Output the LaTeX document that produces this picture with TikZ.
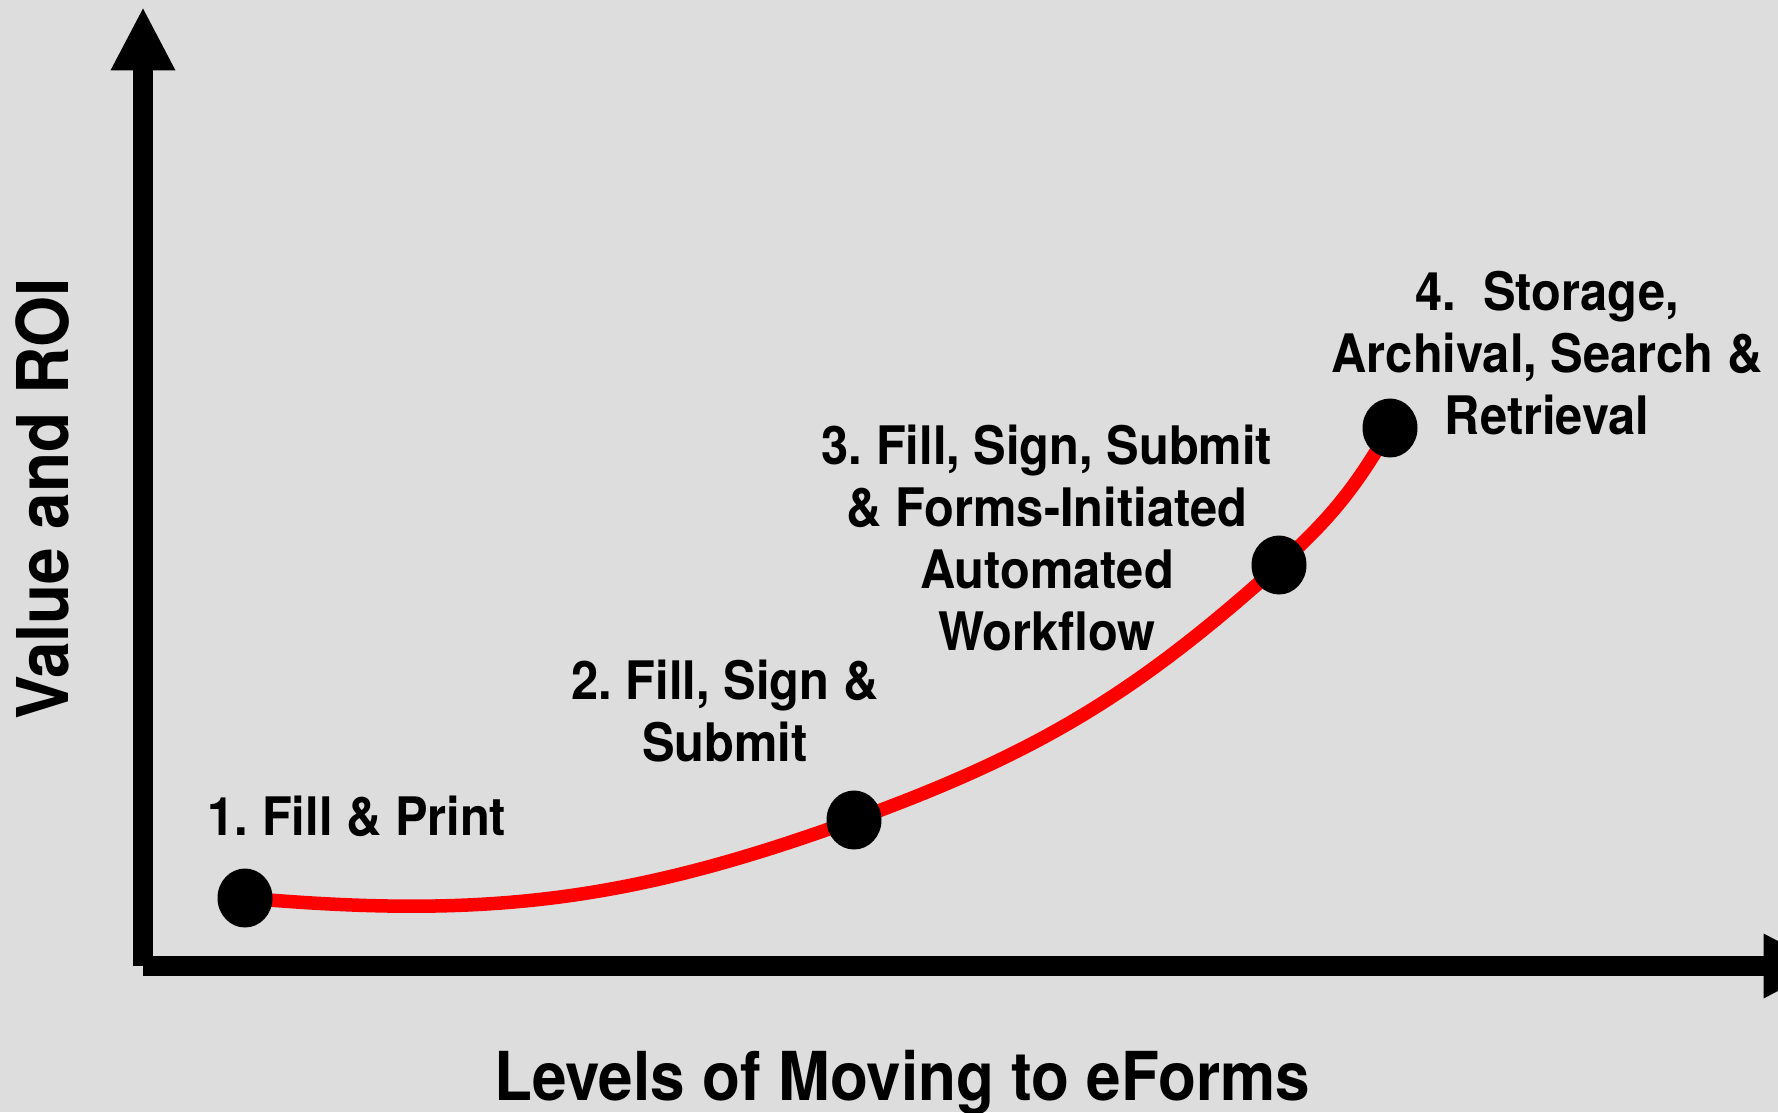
\documentclass[tikz,border=0pt]{standalone}
\usepackage{fontspec}
\setmainfont{TeX Gyre Heros}[FakeStretch=0.92]
\usetikzlibrary{arrows.meta,shapes.geometric}
\definecolor{panel}{RGB}{221,221,221}
\definecolor{curvered}{RGB}{255,0,0}
\frenchspacing

\begin{document}
\begin{tikzpicture}[x=0.1mm, y=0.1mm,
    axis/.style={line width=2mm, -{Triangle[length=6.35mm, width=6mm]}},
    growth/.style={curvered, line width=1.35mm},
    level/.style={ellipse, fill=black, inner sep=0, minimum width=5.5mm, minimum height=5.9mm},
    stage/.style={align=center, anchor=north, inner sep=0, font=\bfseries\fontsize{15.1pt}{17.7pt}\selectfont},
    axislabel/.style={anchor=base, inner sep=0, font=\bfseries\fontsize{19.2pt}{23pt}\selectfont}]
    \useasboundingbox (0, 0) rectangle (1778, 1112);
    \fill[panel] (0, 0) rectangle (1778, 1112);
    \coordinate (origin) at (143, 146);
    \coordinate (ytip) at (143, 1105);
    \coordinate (xtip) at (1827, 146);
    \draw[axis] (origin) -- (ytip);
    \draw[axis] (origin) -- (xtip);
    \coordinate (p1) at (245, 214);
    \coordinate (p2) at (854, 292);
    \coordinate (p3) at (1279, 547);
    \coordinate (p4) at (1390, 684);
    \draw[growth] (p1) to[out=-5, in=200] (p2) to[out=20, in=222] (p3) to[out=42, in=240] (p4);
    \node[level] (d1) at (p1) {};
    \node[level] (d2) at (p2) {};
    \node[level] (d3) at (p3) {};
    \node[level] (d4) at (p4) {};
    \node[stage] (s1) at (357, 317) {1. Fill \& Print};
    \node[stage] (s2) at (725, 453) {2. Fill, Sign \&\\Submit};
    \node[stage] (s3) at (1047, 688) {3. Fill, Sign, Submit\\\& Forms-Initiated\\Automated\\Workflow};
    \node[stage] (s4) at (1547, 842) {4.\ \ Storage,\\Archival, Search \&\\Retrieval};
    \node[axislabel] (xlabel) at (902, 12) {Levels of Moving to eForms};
    \node[axislabel, rotate=90, font=\bfseries\fontsize{20.3pt}{24pt}\selectfont] (ylabel) at (69, 613) {Value and ROI};
\end{tikzpicture}
\end{document}
